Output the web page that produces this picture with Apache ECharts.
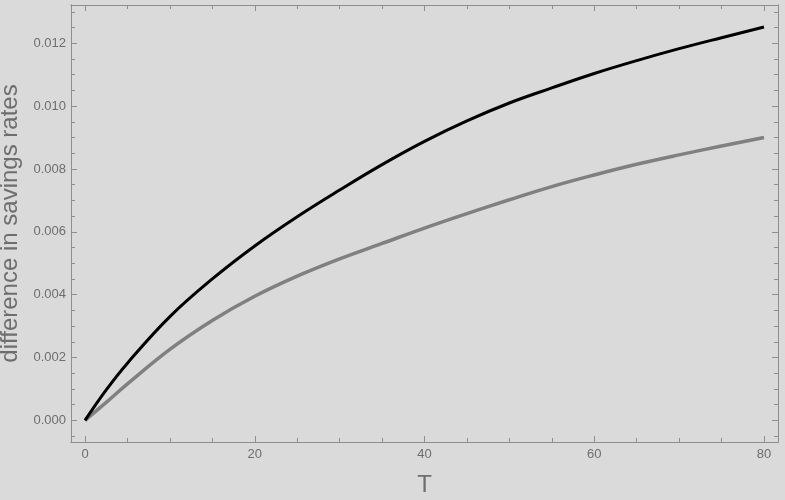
<!DOCTYPE html>
<html>
<head>
<meta charset="utf-8">
<script src="https://cdn.jsdelivr.net/npm/echarts@6/dist/echarts.min.js"></script>
<style>
  html, body { margin: 0; padding: 0; background: #dadada; }
  #main { width: 785px; height: 500px; }
</style>
</head>
<body>
<div id="main"></div>
<script>
// values
const tValues = [0, 2.5, 5, 10, 15, 20, 25, 30, 35, 40, 45, 50, 55, 60, 65, 70, 75, 80]
const blackValues = [0, 0.00097, 0.00182, 0.00330, 0.00450, 0.00555, 0.00648, 0.00733, 0.00814, 0.00888,
  0.00953, 0.01010, 0.01058, 0.01104, 0.01145, 0.01183, 0.01218, 0.01252]
const grayValues = [0, 0.00057, 0.00116, 0.00226, 0.00318, 0.00395, 0.00459, 0.00514, 0.00563, 0.00612,
  0.00658, 0.00702, 0.00744, 0.00781, 0.00815, 0.00845, 0.00873, 0.00900]

const xMajorTicks = [0, 20, 40, 60, 80]
const xMinorTicks = [5, 10, 15, 25, 30, 35, 45, 50, 55, 65, 70, 75]
const yMajorTicks = [0, 0.002, 0.004, 0.006, 0.008, 0.010, 0.012]
const yMinorTicks = [-0.0005, 0.0005, 0.001, 0.0015, 0.0025, 0.003, 0.0035, 0.0045, 0.005, 0.0055,
  0.0065, 0.007, 0.0075, 0.0085, 0.009, 0.0095, 0.0105, 0.011, 0.0115, 0.0125, 0.013]

const frameColor = '#8e8e8e'
const textColor = '#6e6e6e'
const fontFamily = '"Liberation Sans", Arial, sans-serif'

const xRange = { min: -1.65, max: 81.65 }
const yRange = { min: -0.00069, max: 0.01322 }

function makeAxis(base, position, ticks, length, withLabels) {
  return Object.assign({
    type: 'value',
    position: position,
    splitLine: { show: false },
    axisLine: { show: true, onZero: false, lineStyle: { color: frameColor, width: 1 } },
    axisTick: {
      show: true,
      inside: true,
      length: length,
      customValues: ticks,
      lineStyle: { color: frameColor, width: 1 }
    },
    axisLabel: withLabels
      ? withLabels
      : { show: false }
  }, base)
}

const chart = echarts.init(document.getElementById('main'))

const pairs = (ys) => tValues.map((t, i) => [t, ys[i]])

chart.setOption({
  animation: false,
  backgroundColor: '#dadada',
  grid: { left: 71, right: 7, top: 5, bottom: 58, containLabel: false, outerBoundsMode: 'none' },
  xAxis: [
    makeAxis(Object.assign({
      name: 'T',
      nameLocation: 'middle',
      nameGap: 31,
      nameTextStyle: { color: textColor, fontSize: 24, fontFamily: fontFamily }
    }, xRange), 'bottom', xMajorTicks, 6, {
      show: true,
      customValues: xMajorTicks,
      margin: 6,
      color: textColor,
      fontSize: 13,
      fontFamily: fontFamily
    }),
    makeAxis(Object.assign({}, xRange), 'bottom', xMinorTicks, 4),
    makeAxis(Object.assign({}, xRange), 'top', xMajorTicks, 6),
    makeAxis(Object.assign({}, xRange), 'top', xMinorTicks, 4)
  ],
  yAxis: [
    makeAxis(Object.assign({
      name: 'difference in savings rates',
      nameLocation: 'middle',
      nameGap: 43,
      nameTextStyle: { color: textColor, fontSize: 24, fontFamily: fontFamily }
    }, yRange), 'left', yMajorTicks, 6, {
      show: true,
      customValues: yMajorTicks,
      margin: 5,
      color: textColor,
      fontSize: 13,
      fontFamily: fontFamily,
      formatter: (v) => v.toFixed(3)
    }),
    makeAxis(Object.assign({}, yRange), 'left', yMinorTicks, 4),
    makeAxis(Object.assign({}, yRange), 'right', yMajorTicks, 6),
    makeAxis(Object.assign({}, yRange), 'right', yMinorTicks, 4)
  ],
  series: [
    {
      name: 'gray',
      type: 'line',
      smooth: 0.4,
      showSymbol: false,
      xAxisIndex: 0,
      yAxisIndex: 0,
      lineStyle: { color: '#808080', width: 3.5 },
      data: pairs(grayValues)
    },
    {
      name: 'black',
      type: 'line',
      smooth: 0.4,
      showSymbol: false,
      xAxisIndex: 0,
      yAxisIndex: 0,
      lineStyle: { color: '#000000', width: 3 },
      data: pairs(blackValues)
    }
  ]
})
</script>
</body>
</html>
